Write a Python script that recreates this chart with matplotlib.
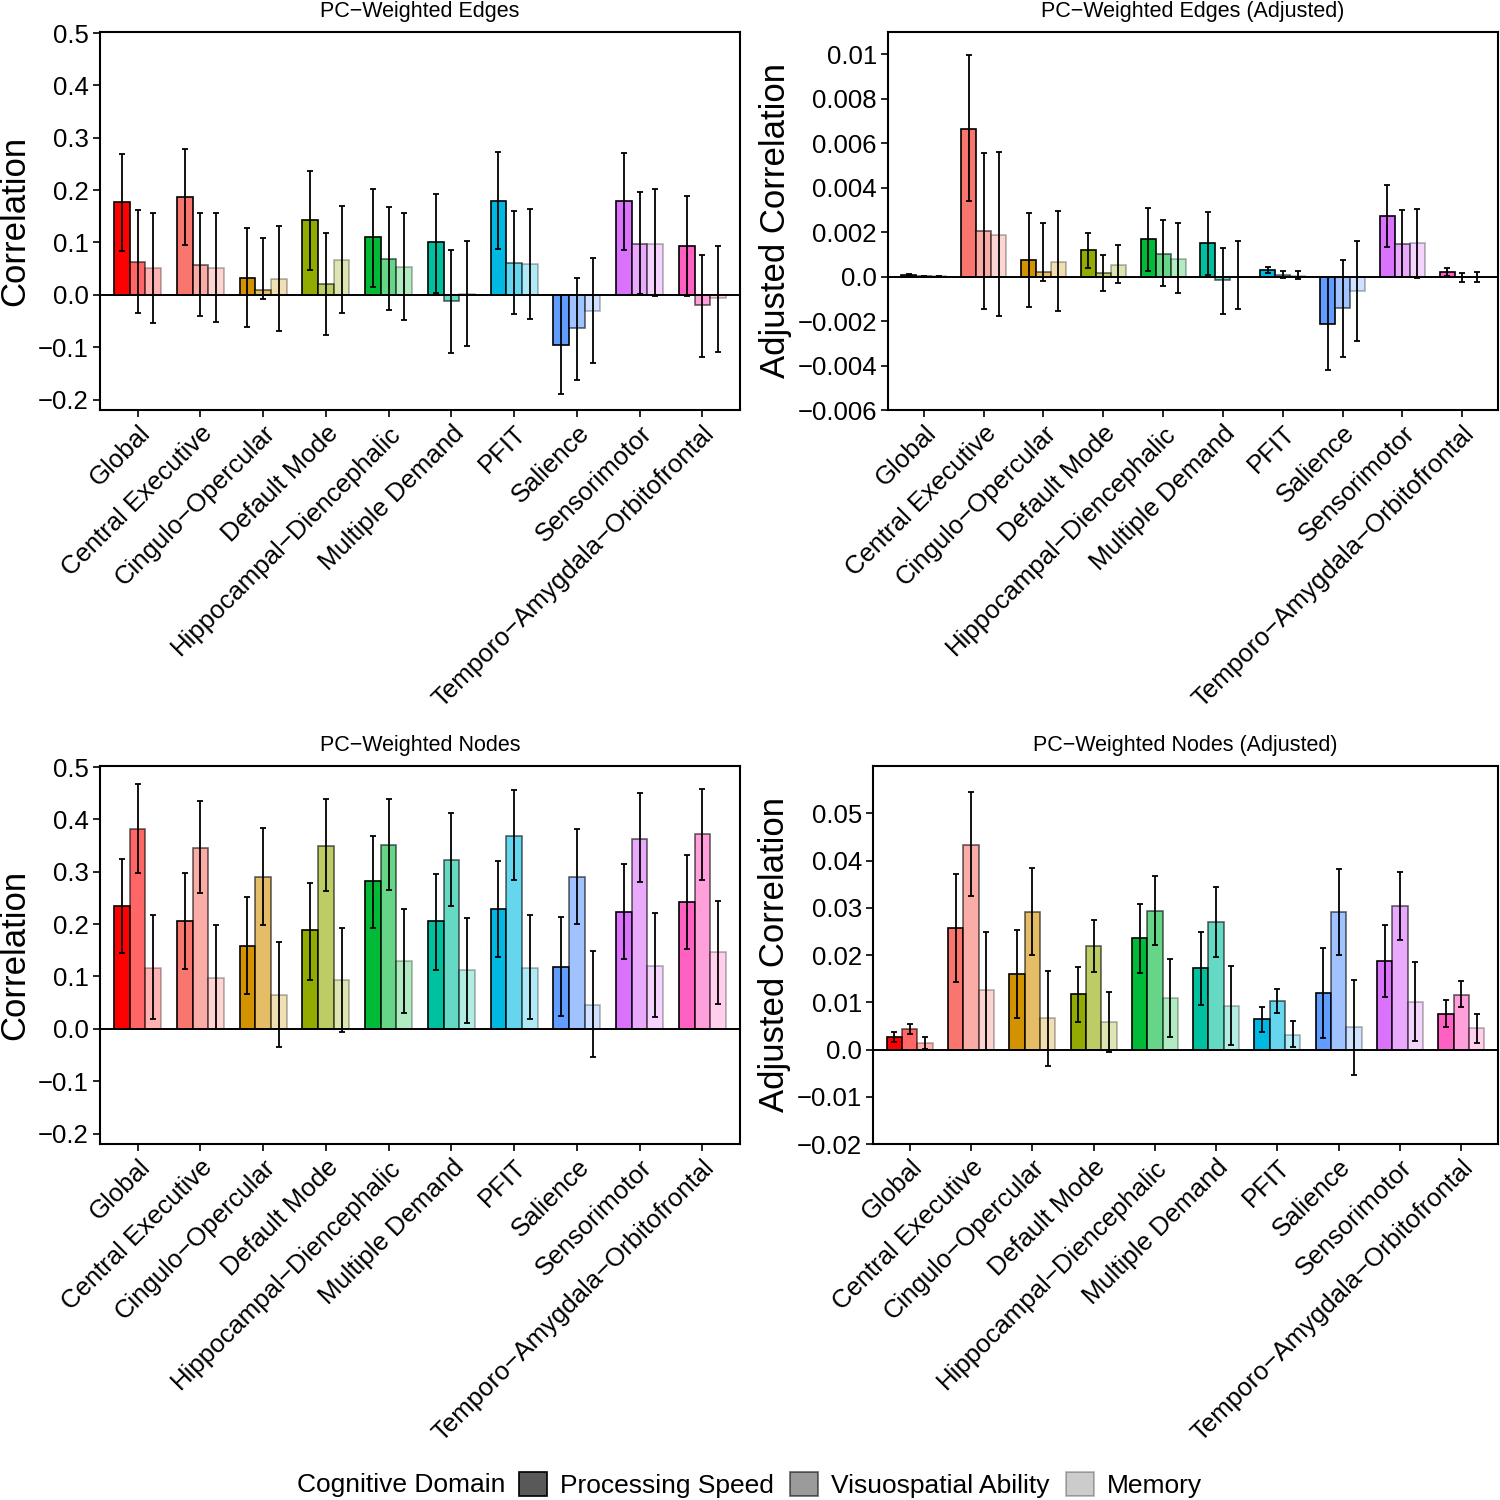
import numpy as np
import matplotlib.pyplot as plt
from matplotlib.colors import to_rgba
from matplotlib.patches import Patch

plt.rcParams['font.family'] = ['Liberation Sans', 'DejaVu Sans']

networks = ['Global', 'Central Executive', 'Cingulo\u2212Opercular', 'Default Mode',
            'Hippocampal\u2212Diencephalic', 'Multiple Demand', 'PFIT', 'Salience',
            'Sensorimotor', 'Temporo\u2212Amygdala\u2212Orbitofrontal']
net_colors = ['#FF0000', '#F8766D', '#D39200', '#93AA00', '#00BA38',
              '#00C19F', '#00B9E3', '#619CFF', '#DB72FB', '#FF61C3']
domains = ['Processing Speed', 'Visuospatial Ability', 'Memory']
domain_alpha = [1.0, 0.6, 0.3]

# rows = networks, columns = domains (PS, VS, Memory)
edges_val = np.array([
    [0.177, 0.063, 0.051], [0.186, 0.057, 0.051], [0.033, 0.010, 0.030],
    [0.142, 0.020, 0.067], [0.110, 0.068, 0.054], [0.100, -0.011, 0.001],
    [0.180, 0.060, 0.058], [-0.095, -0.063, -0.030], [0.179, 0.098, 0.098],
    [0.093, -0.019, -0.006]])
edges_lo = np.array([
    [0.084, -0.034, -0.053], [0.095, -0.041, -0.051], [-0.062, -0.008, -0.070],
    [0.048, -0.077, -0.034], [0.015, -0.029, -0.048], [0.004, -0.111, -0.098],
    [0.087, -0.037, -0.047], [-0.190, -0.163, -0.131], [0.086, 0.001, -0.003],
    [-0.003, -0.119, -0.109]])
edges_hi = np.array([
    [0.269, 0.162, 0.157], [0.279, 0.156, 0.157], [0.128, 0.109, 0.132],
    [0.237, 0.119, 0.170], [0.203, 0.167, 0.157], [0.193, 0.086, 0.103],
    [0.272, 0.160, 0.164], [0.000, 0.033, 0.070], [0.271, 0.197, 0.202],
    [0.188, 0.077, 0.093]])

edges_adj_val = np.array([
    [0.00007, 0.00001, 0.00001], [0.00666, 0.00205, 0.00187], [0.00075, 0.00022, 0.00067],
    [0.00120, 0.00015, 0.00054], [0.00168, 0.00103, 0.00081], [0.00151, -0.00016, 0.00000],
    [0.00030, 0.00006, 0.00004], [-0.00213, -0.00141, -0.00066], [0.00273, 0.00148, 0.00150],
    [0.00019, -0.00003, -0.00002]])
edges_adj_lo = np.array([
    [0.00004, 0.00000, 0.00000], [0.00339, -0.00144, -0.00178], [-0.00138, -0.00018, -0.00156],
    [0.00039, -0.00064, -0.00030], [0.00025, -0.00043, -0.00072], [0.00006, -0.00168, -0.00148],
    [0.00016, -0.00007, -0.00009], [-0.00421, -0.00361, -0.00289], [0.00132, -0.00001, -0.00006],
    [0.00001, -0.00025, -0.00024]])
edges_adj_hi = np.array([
    [0.00010, 0.00002, 0.00002], [0.00996, 0.00558, 0.00561], [0.00285, 0.00243, 0.00294],
    [0.00198, 0.00099, 0.00141], [0.00307, 0.00253, 0.00240], [0.00292, 0.00130, 0.00159],
    [0.00043, 0.00025, 0.00027], [0.00000, 0.00076, 0.00159], [0.00411, 0.00298, 0.00306],
    [0.00037, 0.00015, 0.00019]])

nodes_val = np.array([
    [0.235, 0.382, 0.116], [0.205, 0.346, 0.098], [0.159, 0.290, 0.065],
    [0.188, 0.349, 0.093], [0.282, 0.351, 0.129], [0.205, 0.323, 0.112],
    [0.228, 0.369, 0.116], [0.119, 0.290, 0.046], [0.224, 0.363, 0.120],
    [0.242, 0.372, 0.146]])
nodes_lo = np.array([
    [0.145, 0.297, 0.018], [0.114, 0.259, 0.000], [0.066, 0.199, -0.034],
    [0.094, 0.263, -0.007], [0.193, 0.266, 0.031], [0.113, 0.235, 0.011],
    [0.138, 0.284, 0.018], [0.025, 0.201, -0.053], [0.133, 0.280, 0.022],
    [0.152, 0.285, 0.048]])
nodes_hi = np.array([
    [0.325, 0.467, 0.217], [0.297, 0.436, 0.199], [0.252, 0.384, 0.166],
    [0.279, 0.439, 0.193], [0.368, 0.439, 0.228], [0.296, 0.413, 0.212],
    [0.320, 0.457, 0.217], [0.214, 0.382, 0.148], [0.315, 0.450, 0.221],
    [0.332, 0.459, 0.245]])

nodes_adj_val = np.array([
    [0.00275, 0.00444, 0.00127], [0.0257, 0.0433, 0.0125], [0.0159, 0.0291, 0.0066],
    [0.0118, 0.0218, 0.0058], [0.0235, 0.0293, 0.0108], [0.0172, 0.0269, 0.0093],
    [0.0064, 0.0102, 0.0031], [0.0120, 0.0291, 0.0047], [0.0188, 0.0304, 0.0100],
    [0.0076, 0.0115, 0.0045]])
nodes_adj_lo = np.array([
    [0.00162, 0.00338, 0.00021], [0.0143, 0.0324, 0.0000], [0.0066, 0.0199, -0.0034],
    [0.0058, 0.0164, -0.0005], [0.0161, 0.0222, 0.0027], [0.0094, 0.0196, 0.0010],
    [0.0038, 0.0078, 0.0005], [0.0025, 0.0201, -0.0053], [0.0111, 0.0232, 0.0018],
    [0.0047, 0.0089, 0.0014]])
nodes_adj_hi = np.array([
    [0.00380, 0.00549, 0.00254], [0.0372, 0.0544, 0.0249], [0.0252, 0.0384, 0.0166],
    [0.0175, 0.0274, 0.0121], [0.0308, 0.0367, 0.0191], [0.0248, 0.0344, 0.0177],
    [0.0089, 0.0127, 0.0060], [0.0214, 0.0382, 0.0147], [0.0263, 0.0375, 0.0185],
    [0.0104, 0.0144, 0.0076]])

corr_ticks = [-0.2, -0.1, 0.0, 0.1, 0.2, 0.3, 0.4, 0.5]
corr_labels = ['\u22120.2', '\u22120.1', '0.0', '0.1', '0.2', '0.3', '0.4', '0.5']
edge_adj_ticks = [-0.006, -0.004, -0.002, 0.0, 0.002, 0.004, 0.006, 0.008, 0.01]
edge_adj_labels = ['\u22120.006', '\u22120.004', '\u22120.002', '0.0', '0.002',
                   '0.004', '0.006', '0.008', '0.01']
node_adj_ticks = [-0.02, -0.01, 0.0, 0.01, 0.02, 0.03, 0.04, 0.05]
node_adj_labels = ['\u22120.02', '\u22120.01', '0.0', '0.01', '0.02', '0.03', '0.04', '0.05']


def draw_panel(rect, vals, lo, hi, title, ylabel, ylim, yticks, yticklabels, ylab_x):
    ax = fig.add_axes(rect)
    x = np.arange(len(networks))
    for j in range(3):
        pos = x + (j - 1) * 0.25
        faces = [to_rgba(c, domain_alpha[j]) for c in net_colors]
        ax.bar(pos, vals[:, j], width=0.25, color=faces,
               edgecolor=to_rgba('black', domain_alpha[j]), linewidth=1.2, zorder=2)
        ax.errorbar(pos, vals[:, j], yerr=[vals[:, j] - lo[:, j], hi[:, j] - vals[:, j]],
                    fmt='none', ecolor='black', elinewidth=1.3, capsize=2.3,
                    capthick=1.3, zorder=4)
    ax.axhline(0, color='black', linewidth=1.4, zorder=3)
    ax.set_xlim(-0.6, 9.6)
    ax.set_ylim(*ylim)
    ax.set_xticks(x)
    ax.set_xticklabels(networks, rotation=45, ha='right', va='top',
                       rotation_mode='anchor', fontsize=18.5)
    ax.set_yticks(yticks)
    ax.set_yticklabels(yticklabels, fontsize=18.5)
    ax.tick_params(direction='out', length=5, width=1.2, color='black', pad=3)
    for s in ax.spines.values():
        s.set_linewidth(1.5)
    ax.set_title(title, fontsize=15.5, pad=10.5)
    ax.set_ylabel(ylabel, fontsize=25, va='center')
    ax.yaxis.set_label_coords(ylab_x, 0.5)
    return ax


fig = plt.figure(figsize=(15, 15), dpi=100)

W = 1500.0
draw_panel([100 / W, 1 - 410 / W, 640 / W, 378 / W], edges_val, edges_lo, edges_hi,
           'PC\u2212Weighted Edges', 'Correlation', (-0.22, 0.502),
           corr_ticks, corr_labels, (15 - 100) / 640)
draw_panel([888 / W, 1 - 410 / W, 610 / W, 378 / W], edges_adj_val, edges_adj_lo, edges_adj_hi,
           'PC\u2212Weighted Edges (Adjusted)', 'Adjusted Correlation', (-0.006, 0.011),
           edge_adj_ticks, edge_adj_labels, (775 - 888) / 610)
draw_panel([100 / W, 1 - 1144 / W, 640 / W, 378 / W], nodes_val, nodes_lo, nodes_hi,
           'PC\u2212Weighted Nodes', 'Correlation', (-0.22, 0.502),
           corr_ticks, corr_labels, (15 - 100) / 640)
draw_panel([873 / W, 1 - 1144 / W, 625 / W, 378 / W], nodes_adj_val, nodes_adj_lo, nodes_adj_hi,
           'PC\u2212Weighted Nodes (Adjusted)', 'Adjusted Correlation', (-0.02, 0.06),
           node_adj_ticks, node_adj_labels, (775 - 873) / 625)

# legend along the bottom
fig.text(297 / W, 1 - 1485 / W, 'Cognitive Domain', fontsize=19, ha='left', va='center')
handles = [Patch(facecolor=to_rgba('#595959', a), edgecolor=to_rgba('black', a), linewidth=1.2)
           for a in domain_alpha]
fig.legend(handles, domains, loc='center left', bbox_to_anchor=(519 / W, 1 - 1485 / W),
           ncol=3, frameon=False, fontsize=19, handlelength=1.05, handleheight=1.05,
           handletextpad=0.5, columnspacing=0.62, borderaxespad=0, borderpad=0)

fig.savefig('out.png', dpi=100)
